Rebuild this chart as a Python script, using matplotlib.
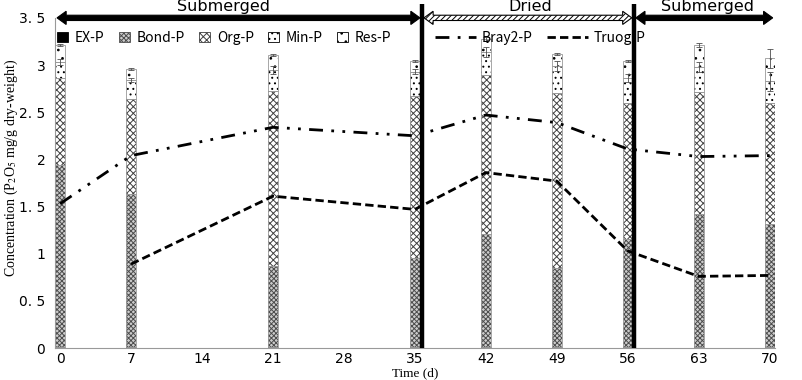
import numpy as np
import matplotlib
matplotlib.use("Agg")
import matplotlib.pyplot as plt
from matplotlib.patches import Polygon, Patch
from matplotlib.lines import Line2D
import matplotlib.transforms as mtransforms

plt.rcParams['font.family'] = ['Noto Sans CJK JP', 'DejaVu Sans']
plt.rcParams['mathtext.fontset'] = 'stix'
plt.rcParams['hatch.linewidth'] = 0.7

# sampling days
days = [0, 7, 21, 35, 42, 49, 56, 63, 70]

# P fractions (stacked), P2O5 mg/g dry-weight
ex_p = [0.01, 0.01, 0.01, 0.01, 0.01, 0.01, 0.01, 0.01, 0.01]
bond_p = [1.93, 1.62, 0.86, 0.95, 1.20, 0.84, 1.15, 1.41, 1.30]
org_p = [0.92, 1.01, 1.86, 1.71, 1.68, 1.85, 1.44, 1.29, 1.29]
min_p = [0.17, 0.20, 0.22, 0.26, 0.25, 0.29, 0.26, 0.27, 0.23]
res_p = [0.18, 0.12, 0.16, 0.11, 0.14, 0.13, 0.18, 0.23, 0.24]
min_err = [0.03, 0.02, 0.04, 0.03, 0.05, 0.05, 0.04, 0.05, 0.10]
res_err = [0.01, 0.01, 0.01, 0.01, 0.02, 0.01, 0.01, 0.02, 0.10]

# available P
bray2_p = [1.53, 2.04, 2.34, 2.25, 2.47, 2.39, 2.11, 2.03, 2.04]
truog_p = [np.nan, 0.89, 1.61, 1.47, 1.86, 1.77, 1.03, 0.76, 0.77]

# water regime periods
phase_names = ["Submerged", "Dried", "Submerged"]
phase_bounds = [-0.5, 35.7, 56.6, 70.5]
phase_label_x = [16.1, 46.4, 63.9]

yticks = [0, 0.5, 1, 1.5, 2, 2.5, 3, 3.5]
ytick_labels = ["0", "0. 5", "1", "1. 5", "2", "2. 5", "3", "3. 5"]
xticks = [0, 7, 14, 21, 28, 35, 42, 49, 56, 63, 70]

fig = plt.figure(figsize=(8.02, 3.80), dpi=100)
ax = fig.add_axes([0.0686, 0.084, 0.8974, 0.869])

x = np.array(days, dtype=float)
w = 1.0
bottom = np.zeros(len(days))
styles = [
    ("EX-P", ex_p, dict(color="black", edgecolor="black")),
    ("Bond-P", bond_p, dict(color="0.8", edgecolor="0.3", hatch="xxxxxxx")),
    ("Org-P", org_p, dict(color="white", edgecolor="0.25", hatch="xxxxx")),
    ("Min-P", min_p, dict(color="white", edgecolor="black", hatch="...")),
    ("Res-P", res_p, dict(color="white", edgecolor="black", hatch="..")),
]
handles = []
for name, vals, st in styles:
    ax.bar(x, vals, w, bottom=bottom, linewidth=0, zorder=2, **st)
    # gray outline
    ax.bar(x, vals, w, bottom=bottom, fill=False, edgecolor="0.6", linewidth=0.6, zorder=2.1)
    bottom = bottom + np.array(vals)
    if name == "Min-P":
        ax.errorbar(x, bottom, yerr=min_err, fmt="none", ecolor="0.3", elinewidth=0.6, capsize=2, capthick=0.6, zorder=3)
    handles.append(Patch(facecolor=st["color"], edgecolor=st["edgecolor"],
                         hatch=st.get("hatch"), linewidth=0.6, label=name))
ax.errorbar(x, bottom, yerr=res_err, fmt="none", ecolor="0.3", elinewidth=0.6, capsize=2, capthick=0.6, zorder=3)

ax.plot(days, bray2_p, color="black", lw=2, linestyle=(0, (5, 3, 1, 3, 1, 3)), zorder=4, label="Bray2-P")
ax.plot(days, truog_p, color="black", lw=2, linestyle=(0, (3, 1.5)), zorder=4, label="Truog-P")

ax.set_xlim(-0.5, 70.5)
ax.set_ylim(0, 3.5)
ax.set_xticks(xticks)
ax.set_xticklabels([str(t) for t in xticks], fontsize=10, family="DejaVu Sans")
ax.set_yticks(yticks)
ax.set_yticklabels(ytick_labels, fontsize=10, family="DejaVu Sans")
ax.tick_params(axis="x", length=0, pad=2.5)
ax.tick_params(axis="y", length=0, pad=7)
for s in ["top", "right"]:
    ax.spines[s].set_visible(False)
for s in ["left", "bottom"]:
    ax.spines[s].set_color("0.6")

ax.set_xlabel("Time (d)", family="Liberation Serif", fontsize=9.5)
ax.xaxis.set_label_coords(0.5, -0.058)
ax.set_ylabel("Concentration (P$_2$O$_5$ mg/g dry-weight)", family="Liberation Serif", fontsize=10)
ax.yaxis.set_label_coords(-0.049, 0.545)

# period boundaries
for b in phase_bounds[1:-1]:
    ax.plot([b, b], [0, 3.65], color="black", lw=3.2, clip_on=False, zorder=5, solid_capstyle="butt")

# period arrows on top
trans = mtransforms.blended_transform_factory(ax.transData, ax.transAxes)
body, head, hl = 0.008, 0.02, 0.9
for i, name in enumerate(phase_names):
    x0, x1 = phase_bounds[i] + 0.2, phase_bounds[i + 1] - 0.2
    yc = 1.0
    pts = [(x0, yc), (x0 + hl, yc + head), (x0 + hl, yc + body), (x1 - hl, yc + body),
           (x1 - hl, yc + head), (x1, yc), (x1 - hl, yc - head), (x1 - hl, yc - body),
           (x0 + hl, yc - body), (x0 + hl, yc - head)]
    if name == "Dried":
        poly = Polygon(pts, closed=True, transform=trans, facecolor="white", edgecolor="black",
                       hatch="//////", linewidth=0.8, clip_on=False, zorder=6)
    else:
        poly = Polygon(pts, closed=True, transform=trans, facecolor="black", edgecolor="black",
                       linewidth=0.8, clip_on=False, zorder=6)
    ax.add_patch(poly)
    ax.text(phase_label_x[i], 1.021, name, transform=trans,
            ha="center", va="baseline", fontsize=11.5, family="DejaVu Sans")

leg1 = ax.legend(handles=handles, loc="center left", bbox_to_anchor=(-0.005, 0.94), ncol=5,
                 frameon=False, fontsize=10, handlelength=0.8, handleheight=0.8,
                 handletextpad=0.5, columnspacing=1.0, borderaxespad=0)
ax.add_artist(leg1)
line_handles = [Line2D([], [], color="black", lw=2, linestyle=(0, (5, 3, 1, 3))),
                Line2D([], [], color="black", lw=2, linestyle=(0, (3, 1.5)))]
ax.legend(line_handles, ["Bray2-P", "Truog-P"], loc="center left", bbox_to_anchor=(0.52, 0.94),
          ncol=2, frameon=False, fontsize=10, handlelength=3, handletextpad=0.4,
          columnspacing=1.0, borderaxespad=0)

fig.savefig("out.png", dpi=100)
